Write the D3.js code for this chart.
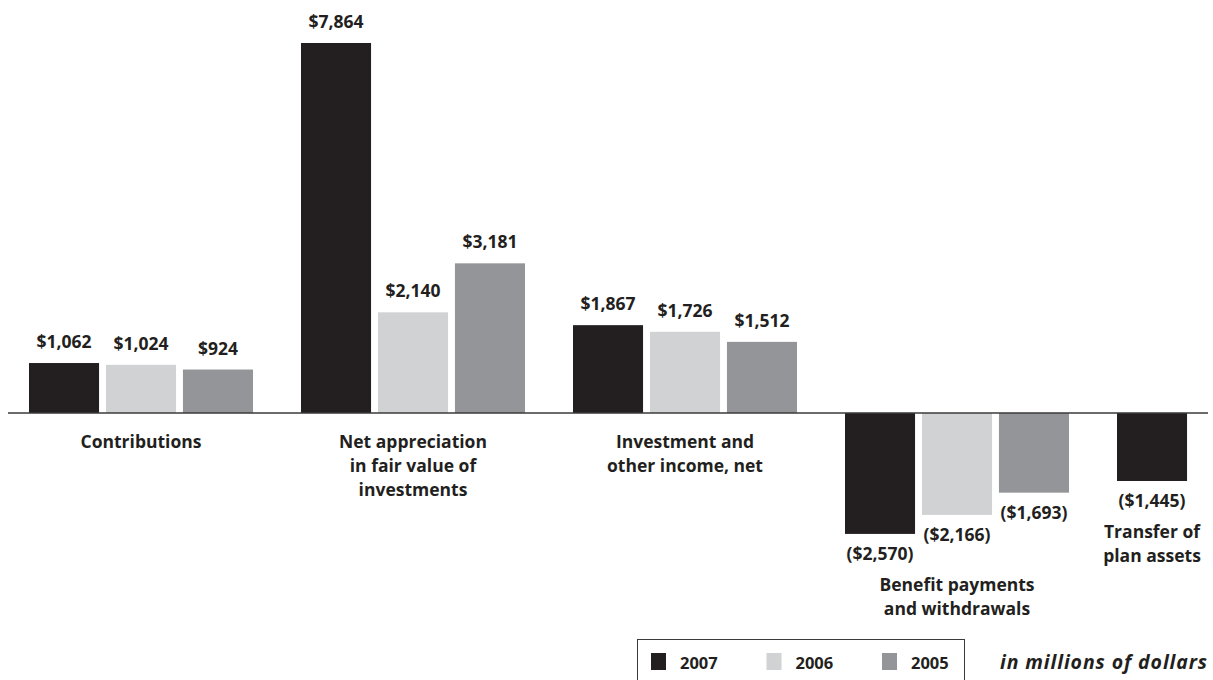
<html>
<head>
<script src="https://cdnjs.cloudflare.com/ajax/libs/d3/7.8.5/d3.min.js"></script>
<style>
  body { margin: 0; background: #fff; }
  text { font-family: "Open Sans", sans-serif; font-weight: 700; fill: #231f20; }
</style>
</head>
<body>
<svg id="chart" width="1213" height="680"></svg>
<script>
// ----- data (in millions of dollars) -----
var categories = ["Contributions", "Net appreciation", "Investment and other", "Benefit payments", "Transfer"];
var categoryLines = [
  ["Contributions"],
  ["Net appreciation", "in fair value of", "investments"],
  ["Investment and", "other income, net"],
  ["Benefit payments", "and withdrawals"],
  ["Transfer of", "plan assets"]
];
var years = ["2007", "2006", "2005"];
var values2007 = [1062, 7864, 1867, -2570, -1445];
var values2006 = [1024, 2140, 1726, -2166, null];
var values2005 = [924, 3181, 1512, -1693, null];
var yearColors = ["#231f20", "#d1d2d4", "#939598"];

var series = [values2007, values2006, values2005];

var svg = d3.select("#chart");

// group scale: band 224 wide, step 272
var x0 = d3.scaleBand()
  .domain(categories)
  .range([5, 1365])
  .paddingInner(48 / 272)
  .paddingOuter(24 / 272);

var x1 = d3.scaleBand()
  .domain(years)
  .range([0, x0.bandwidth()])
  .paddingInner(0.09);

var y = d3.scaleLinear()
  .domain([0, 7864])
  .range([413, 43]);

var fmt = d3.format(",");
function label(v) {
  return v < 0 ? "($" + fmt(-v) + ")" : "$" + fmt(v);
}

// bars
categories.forEach(function(c, ci) {
  var g = svg.append("g").attr("transform", "translate(" + x0(c) + ",0)");
  years.forEach(function(yr, yi) {
    var v = series[yi][ci];
    if (v == null) return;
    g.append("rect")
      .attr("x", x1(yr))
      .attr("y", Math.min(y(v), y(0)))
      .attr("width", x1.bandwidth())
      .attr("height", Math.abs(y(v) - y(0)))
      .attr("fill", yearColors[yi]);
    g.append("text")
      .attr("x", x1(yr) + x1.bandwidth() / 2)
      .attr("y", v >= 0 ? y(v) - 15 : y(v) + 26)
      .attr("text-anchor", "middle")
      .style("font-size", "17.5px")
      .text(label(v));
  });
});

// baseline
svg.append("line")
  .attr("x1", 8).attr("x2", 1208)
  .attr("y1", y(0)).attr("y2", y(0))
  .attr("stroke", "#3a3a3a")
  .attr("stroke-width", 1.5);

// category labels
categories.forEach(function(c, ci) {
  var present = [];
  var minV = 0;
  years.forEach(function(yr, yi) {
    var v = series[yi][ci];
    if (v == null) return;
    present.push(x0(c) + x1(yr) + x1.bandwidth() / 2);
    if (v < minV) minV = v;
  });
  var cx = (d3.min(present) + d3.max(present)) / 2;
  var startY = minV < 0 ? y(minV) + 26 + 31 : y(0) + 35;
  var t = svg.append("text")
    .attr("text-anchor", "middle")
    .style("font-size", "17.5px");
  categoryLines[ci].forEach(function(line, li) {
    t.append("tspan")
      .attr("x", cx)
      .attr("y", startY + li * 24)
      .text(line);
  });
});

// legend
var legend = svg.append("g");
legend.append("rect")
  .attr("x", 637.5).attr("y", 639.5)
  .attr("width", 327).attr("height", 60)
  .attr("fill", "none")
  .attr("stroke", "#3a3a3a")
  .attr("stroke-width", 1);

var legendX = d3.scalePoint().domain(years).range([651, 882]);
years.forEach(function(yr, yi) {
  legend.append("rect")
    .attr("x", legendX(yr)).attr("y", 653)
    .attr("width", 15).attr("height", 17)
    .attr("fill", yearColors[yi]);
  legend.append("text")
    .attr("x", legendX(yr) + 29)
    .attr("y", 669)
    .style("font-size", "16.5px")
    .text(yr);
});

svg.append("text")
  .attr("x", 1208)
  .attr("y", 669)
  .attr("text-anchor", "end")
  .style("font-size", "19.5px")
  .style("font-style", "italic")
  .style("letter-spacing", "0.9px")
  .text("in millions of dollars");
</script>
</body>
</html>
